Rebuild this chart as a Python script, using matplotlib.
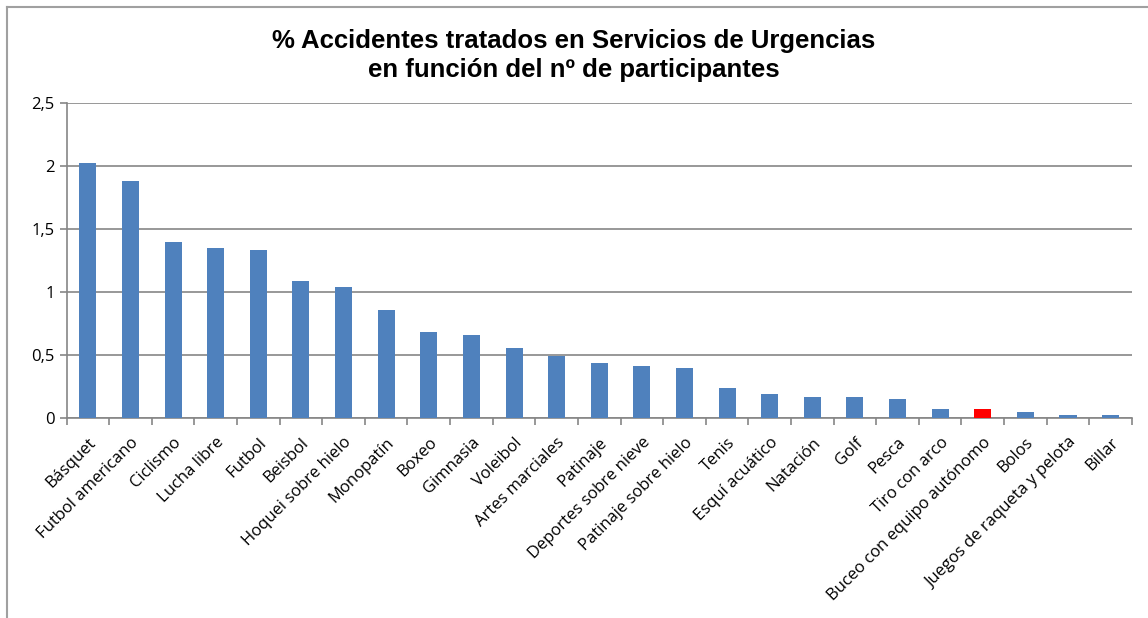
import numpy as np
import matplotlib
matplotlib.use("Agg")
import matplotlib.pyplot as plt
from matplotlib.lines import Line2D
from matplotlib.ticker import FuncFormatter

deportes = ['Básquet', 'Futbol americano', 'Ciclismo', 'Lucha libre', 'Futbol',
            'Beisbol', 'Hoquei sobre hielo', 'Monopatín', 'Boxeo', 'Gimnasia',
            'Voleibol', 'Artes marciales', 'Patinaje', 'Deportes sobre nieve',
            'Patinaje sobre hielo', 'Tenis', 'Esquí acuático', 'Natación', 'Golf',
            'Pesca', 'Tiro con arco', 'Buceo con equipo autónomo', 'Bolos',
            'Juegos de raqueta y pelota', 'Billar']
porcentaje = [2.02, 1.88, 1.40, 1.35, 1.33, 1.09, 1.04, 0.86, 0.685, 0.655,
              0.553, 0.494, 0.436, 0.415, 0.394, 0.24, 0.193, 0.17, 0.17,
              0.15, 0.07, 0.07, 0.045, 0.025, 0.02]
destacado = 'Buceo con equipo autónomo'

azul = '#4F81BD'
rojo = '#FF0000'
gris = '#868686'

fig = plt.figure(figsize=(11.48, 6.18), dpi=100)
ax = fig.add_axes([0.058, 0.3236, 0.928, 0.5097])

x = np.arange(len(deportes))
colores = [rojo if d == destacado else azul for d in deportes]
ax.bar(x, porcentaje, width=0.4, color=colores, zorder=3)

ax.set_xlim(-0.5, len(deportes) - 0.5)
ax.set_ylim(0, 2.5)
ax.set_yticks(np.arange(0, 2.51, 0.5))
ax.yaxis.set_major_formatter(FuncFormatter(
    lambda v, p: ('%g' % v).replace('.', ',')))
ax.yaxis.grid(True, color=gris, linewidth=1.2, zorder=0)

ax.set_xticks(x)
ax.set_xticklabels(deportes, rotation=45, ha='right', rotation_mode='anchor',
                   fontsize=12, family=['Open Sans', 'DejaVu Sans'])
ax.set_xticks(np.arange(-0.5, len(deportes)), minor=True)
ax.tick_params(axis='x', which='major', length=0, pad=12)
ax.tick_params(axis='x', which='minor', length=5, color=gris, width=1.2)
ax.tick_params(axis='y', length=5, color=gris, width=1.2, labelsize=12)
for lbl in ax.get_yticklabels():
    lbl.set_family(['Open Sans', 'DejaVu Sans'])

for s in ['top', 'right']:
    ax.spines[s].set_visible(False)
for s in ['left', 'bottom']:
    ax.spines[s].set_color(gris)
    ax.spines[s].set_linewidth(1.2)

fig.text(0.5, 0.91, '% Accidentes tratados en Servicios de Urgencias\n'
         'en función del nº de participantes',
         ha='center', va='center', fontsize=18.5, fontweight='bold',
         family='Liberation Sans', linespacing=1.3)

# marco del gráfico
fig.add_artist(Line2D([7 / 1148, 7 / 1148], [0, 1 - 7 / 618],
                      color='#A0A0A0', linewidth=1.5))
fig.add_artist(Line2D([7 / 1148, 1], [1 - 7 / 618, 1 - 7 / 618],
                      color='#A0A0A0', linewidth=1.5))

fig.savefig('out.png', dpi=100)
